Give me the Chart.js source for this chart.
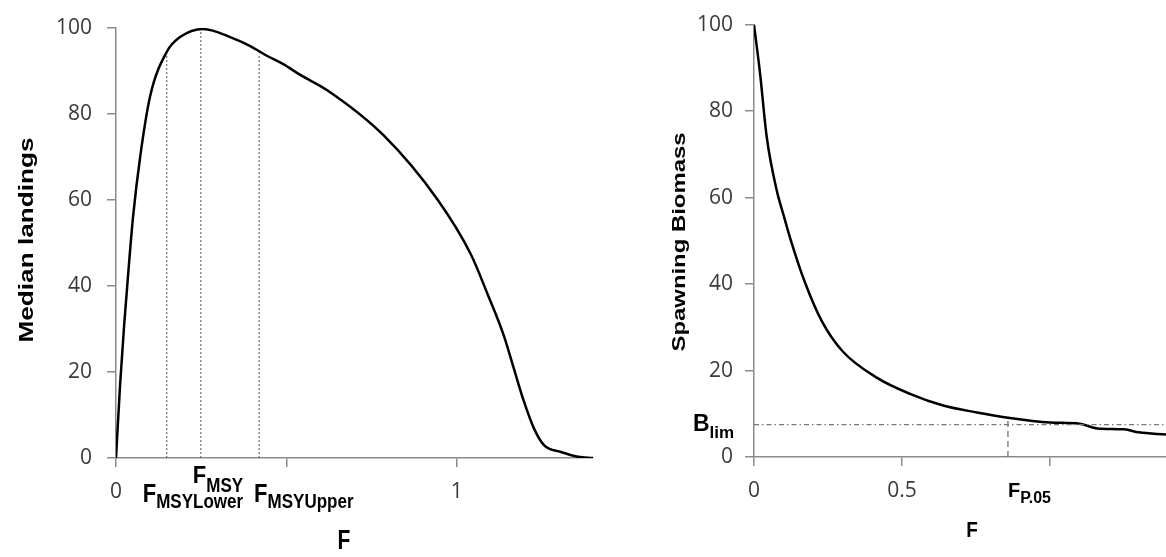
<!DOCTYPE html>
<html>
<head>
<meta charset="utf-8">
<script src="https://cdn.jsdelivr.net/npm/chart.js@4.4.1/dist/chart.umd.min.js"></script>
<style>
  html, body { margin: 0; padding: 0; background: #fff; }
  #left { position: absolute; left: 0; top: 0; width: 600px; height: 557px; }
  #right { position: absolute; left: 620px; top: 0; width: 546px; height: 557px; }
</style>
</head>
<body>
<div id="left"><canvas id="c1"></canvas></div>
<div id="right"><canvas id="c2"></canvas></div>
<script>
// left panel: median landings against F
const landF = [0, 0.012, 0.024, 0.036, 0.05, 0.071, 0.1, 0.15, 0.188, 0.256, 0.344, 0.394, 0.444, 0.491, 0.541, 0.621, 0.785, 0.944, 1.041, 1.091, 1.138, 1.168, 1.197, 1.226, 1.256, 1.306, 1.356, 1.4];
const landY = [0, 17, 31, 43, 56, 70, 84, 94.5, 97.8, 99.7, 97.5, 95.7, 93.4, 91.5, 89, 85.4, 75, 60, 47.4, 38, 28.5, 20.7, 13.2, 7, 3, 1.4, 0.3, 0];
const landTicksX = [0, 0.5, 1];
const landTickLabels = ['0', '', '1'];

// reference points on the landings curve
const fNames = ['MSYLower', 'MSY', 'MSYUpper'];
const fValues = [0.149, 0.249, 0.42];
const fTops = [94, 99.5, 94];

// right panel: spawning biomass against F
const ssbF = [0, 0.02, 0.043, 0.077, 0.098, 0.125, 0.172, 0.23, 0.30, 0.416, 0.527, 0.639, 0.753, 0.858, 1.0, 1.10, 1.16, 1.25, 1.30, 1.392];
const ssbY = [100, 89, 74, 61.6, 56.4, 50, 40.4, 31.3, 24.4, 18.3, 14.6, 11.9, 10.3, 9.1, 8.0, 7.7, 6.6, 6.4, 5.7, 5.2];
const ssbTicksX = [0, 0.5, 1];
const ssbTickLabels = ['0', '0.5', ''];

const bLim = 7.5;
const fP05 = 0.858;
const fP05Top = 9.1;

const yTicks = [0, 20, 40, 60, 80, 100];

const axisCol = '#8a8a8a';
const tickFont = { family: 'Open Sans', size: 21 };
const boldFace = '"Liberation Sans", Arial, sans-serif';

function pts(xs, ys) {
  return xs.map((x, i) => ({ x: x, y: ys[i] }));
}

function scales(xMax, xTicks, xLabels, yWidth, xHeight, yPad) {
  return {
    x: {
      type: 'linear', min: 0, max: xMax,
      afterBuildTicks: s => { s.ticks = xTicks.map(v => ({ value: v })); },
      afterFit: s => { s.height = xHeight; },
      grid: { drawOnChartArea: false, tickLength: 9, color: axisCol, lineWidth: 1.5 },
      border: { color: axisCol, width: 1.5 },
      ticks: {
        padding: 12, color: '#3a3a3a', font: tickFont, maxRotation: 0,
        callback: v => xLabels[xTicks.indexOf(v)] ?? ''
      }
    },
    y: {
      min: 0, max: 100,
      afterBuildTicks: s => { s.ticks = yTicks.map(v => ({ value: v })); },
      afterFit: s => { s.width = yWidth; },
      grid: { drawOnChartArea: false, tickLength: 9, color: axisCol, lineWidth: 1.5 },
      border: { color: axisCol, width: 1.5 },
      ticks: { padding: yPad, color: '#3a3a3a', font: tickFont }
    }
  };
}

function stretched(ctx, text, x, y, px, sy) {
  ctx.save();
  ctx.translate(x, y);
  ctx.scale(1, sy);
  ctx.font = 'bold ' + px + 'px ' + boldFace;
  ctx.textAlign = 'left';
  ctx.textBaseline = 'alphabetic';
  ctx.fillText(text, 0, 0);
  const w = ctx.measureText(text).width;
  ctx.restore();
  return w;
}

function withSub(ctx, x, y, main, sub, mainPx, subPx, dy, sy, subSy) {
  const w = stretched(ctx, main, x, y, mainPx, sy);
  stretched(ctx, sub, x + w, y + dy, subPx, subSy);
}

function centered(ctx, text, cx, cy, px, sy) {
  ctx.save();
  ctx.translate(cx, cy);
  ctx.scale(1, sy);
  ctx.font = 'bold ' + px + 'px ' + boldFace;
  ctx.textAlign = 'center';
  ctx.textBaseline = 'alphabetic';
  ctx.fillText(text, 0, 0);
  ctx.restore();
}

function yTitle(ctx, text, cx, cy, px, length) {
  ctx.save();
  ctx.translate(cx, cy);
  ctx.rotate(-Math.PI / 2);
  ctx.font = 'bold ' + px + 'px ' + boldFace;
  const w = ctx.measureText(text).width;
  ctx.scale(length / w, 1);
  ctx.textAlign = 'center';
  ctx.textBaseline = 'middle';
  ctx.fillText(text, 0, 0);
  ctx.restore();
}

const leftText = {
  id: 'leftText',
  afterDraw(chart) {
    const ctx = chart.ctx;
    const xs = chart.scales.x;
    ctx.fillStyle = '#000';
    yTitle(ctx, 'Median landings', 27, 240, 20, 205);
    centered(ctx, 'F', 344, 549, 21, 1.3);
    const offs = [-24, -8, -5];
    const base = [502, 483, 502];
    const dys = [6, 9, 6];
    fNames.forEach((n, i) => {
      const px = xs.getPixelForValue(fValues[i]);
      withSub(ctx, px + offs[i], base[i], 'F', n, 22, 17, dys[i], i === 1 ? 1.05 : 1.2, 1.22);
    });
  }
};

const rightText = {
  id: 'rightText',
  afterDraw(chart) {
    const ctx = chart.ctx;
    const xs = chart.scales.x;
    const ys = chart.scales.y;
    ctx.fillStyle = '#000';
    yTitle(ctx, 'Spawning Biomass', 60, 242, 19, 219);
    centered(ctx, 'F', 352, 537, 19, 1.15);
    const bx = xs.getPixelForValue(fP05);
    withSub(ctx, bx, 497, 'F', 'P.05', 20, 16, 6, 1.0, 1.0);
    const by = ys.getPixelForValue(bLim);
    withSub(ctx, 73, by + 6, 'B', 'lim', 23, 17, 7, 1.0, 1.0);
  }
};

const refSets = fValues.map((f, i) => ({
  data: [{ x: f, y: 0 }, { x: f, y: fTops[i] }],
  borderColor: '#555', borderWidth: 1, borderDash: [2, 2], pointRadius: 0
}));

new Chart(document.getElementById('c1'), {
  type: 'line',
  data: {
    datasets: refSets.concat([{
      data: pts(landF, landY),
      borderColor: '#000', borderWidth: 2.5, pointRadius: 0,
      cubicInterpolationMode: 'monotone'
    }])
  },
  options: {
    responsive: true, maintainAspectRatio: false, animation: false,
    layout: { padding: { top: 19, right: 7, left: 0, bottom: 0 } },
    plugins: { legend: { display: false }, tooltip: { enabled: false } },
    scales: scales(1.4, landTicksX, landTickLabels, 116, 99, 15)
  },
  plugins: [leftText]
});

new Chart(document.getElementById('c2'), {
  type: 'line',
  data: {
    datasets: [{
      data: [{ x: 0, y: bLim }, { x: 1.392, y: bLim }],
      borderColor: '#777', borderWidth: 1.2, borderDash: [5, 3, 1.5, 3], pointRadius: 0
    }, {
      data: [{ x: fP05, y: 0 }, { x: fP05, y: fP05Top }],
      borderColor: '#666', borderWidth: 1.2, borderDash: [6, 4], pointRadius: 0
    }, {
      data: pts(ssbF, ssbY),
      borderColor: '#000', borderWidth: 2.5, pointRadius: 0,
      cubicInterpolationMode: 'monotone'
    }]
  },
  options: {
    responsive: true, maintainAspectRatio: false, animation: false,
    layout: { padding: { top: 19, right: 0, left: 0, bottom: 0 } },
    plugins: { legend: { display: false }, tooltip: { enabled: false } },
    scales: scales(1.392, ssbTicksX, ssbTickLabels, 134, 100, 12)
  },
  plugins: [rightText]
});
</script>
</body>
</html>
